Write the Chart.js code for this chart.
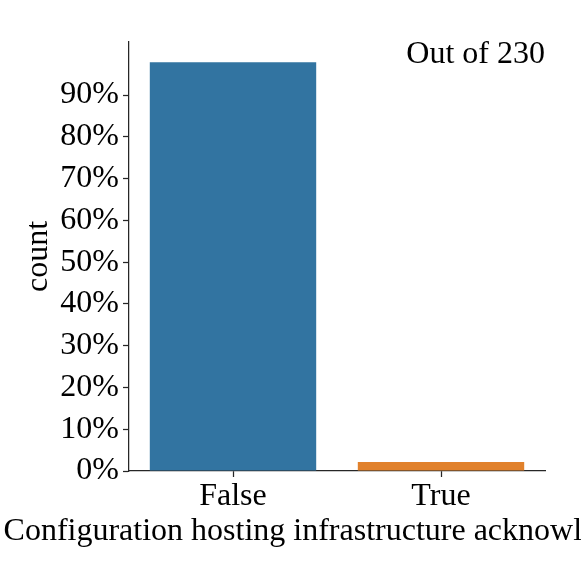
<!DOCTYPE html>
<html lang="en-US">
  <head>
    <meta charset="utf-8" />
    <title>Configuration hosting infrastructure</title>
    <script src="https://cdn.jsdelivr.net/npm/chart.js@4.4.0/dist/chart.umd.min.js"></script>
    <style>
      body{
        margin: 0;
        background: #fff;
      }
    </style>
  </head>
  <body>
    <canvas id="chart" width="581" height="581"></canvas>
  <script>
    // data
    const categories = ["False", "True"];
    const counts = [225, 5];
    const total = 230;
    const barColors = ["#3274a1", "#e1812c"];
    const yTickValues = [0, 10, 20, 30, 40, 50, 60, 70, 80, 90];
    const yMax = 102.7;
    const xTitle = "Configuration hosting infrastructure acknowledged";

    const FONT = "'Liberation Serif', 'Times New Roman', serif";
    const INK = "#262626";

    // share of the total, in percent
    const percents = counts.map(c => c / total * 100);

    // "Out of N" note in the upper right, and the x title
    // (drawn by hand so it can run past the canvas edge like the original)
    const textPlugin = {
      id: "texts",
      afterDraw(chart){
        const ctx = chart.ctx;
        const area = chart.chartArea;
        ctx.save();
        ctx.font = "32px " + FONT;
        ctx.fillStyle = "#000";
        ctx.textBaseline = "alphabetic";
        ctx.textAlign = "right";
        ctx.fillText("Out of " + total, area.right, area.top + 21);
        ctx.textAlign = "center";
        ctx.fillText(xTitle, (area.left + area.right) / 2 - 6, 540);
        ctx.restore();
      }
    };

    new Chart(document.getElementById("chart"), {
      type: "bar",
      data: {
        labels: categories,
        datasets: [{
          data: percents,
          backgroundColor: barColors,
          borderWidth: 0,
          barPercentage: 0.8,
          categoryPercentage: 1.0
        }]
      },
      options: {
        responsive: false,
        animation: false,
        layout: { padding: { top: 42, right: 36, left: 0, bottom: 0 } },
        plugins: {
          legend: { display: false },
          tooltip: { enabled: false }
        },
        scales: {
          x: {
            afterFit: (scale) => { scale.height = 110; },
            grid: {
              offset: false,
              drawOnChartArea: false,
              tickLength: 6,
              tickColor: INK,
              tickWidth: 1.25
            },
            border: { color: INK, width: 1.25 },
            ticks: { color: "#000", padding: 0, font: { family: FONT, size: 32 } }
          },
          y: {
            min: 0,
            max: yMax,
            afterFit: (scale) => { scale.width = 129; },
            afterBuildTicks: (scale) => {
              scale.ticks = yTickValues.map(v => ({ value: v }));
            },
            grid: {
              drawOnChartArea: false,
              tickLength: 6,
              tickColor: INK,
              tickWidth: 1.25
            },
            border: { color: INK, width: 1.25 },
            ticks: {
              color: "#000",
              padding: 4,
              font: { family: FONT, size: 32 },
              callback: (v) => v + "%"
            },
            title: {
              display: true,
              text: "count",
              color: "#000",
              font: { family: FONT, size: 32 },
              padding: { top: 19, bottom: 0 }
            }
          }
        }
      },
      plugins: [textPlugin]
    });
  </script>
  </body>
</html>
